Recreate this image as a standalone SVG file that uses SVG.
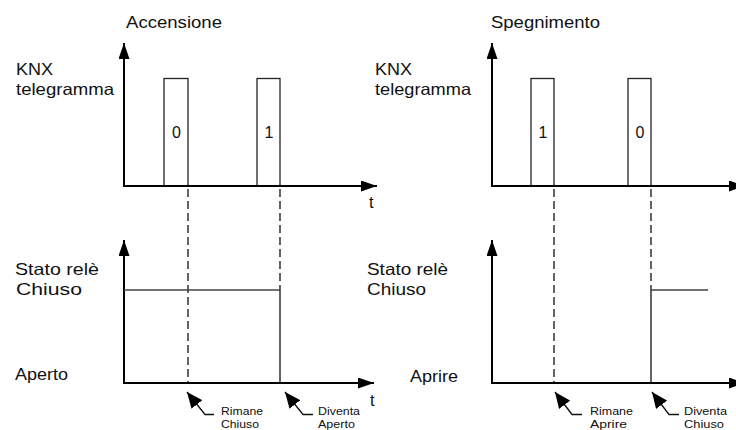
<svg xmlns="http://www.w3.org/2000/svg" width="736" height="430" viewBox="0 0 736 430">
<style>
text{font-family:"Liberation Sans",Arial,sans-serif;fill:#111}
.lbl{font-size:16.5px}
.num{font-size:16px;text-anchor:middle}
.sm{font-size:11.5px}
.axis{stroke:#000;stroke-width:2;fill:none}
.pulse{stroke:#222;stroke-width:1.3;fill:#fff}
.dash{stroke:#111;stroke-width:1.3;stroke-dasharray:8 4;fill:none}
.solid{stroke:#111;stroke-width:1.3;fill:none}
.state{stroke:#444;stroke-width:1.4;fill:none}
.ptr{stroke:#111;stroke-width:1.3;fill:none}
</style>
<defs>
<marker id="ah" markerUnits="userSpaceOnUse" markerWidth="17" markerHeight="11" refX="16" refY="5.5" orient="auto">
<path d="M0,0 L16,5.5 L0,11 z" fill="#000"/>
</marker>
<marker id="sah" markerUnits="userSpaceOnUse" markerWidth="17" markerHeight="14" refX="16" refY="7" orient="auto">
<path d="M0,0 L16,7 L0,14 z" fill="#000"/>
</marker>
</defs>

<g id="titles">
<text class="lbl" x="126" y="28" textLength="96" lengthAdjust="spacingAndGlyphs">Accensione</text>
<text class="lbl" x="491" y="28" textLength="109" lengthAdjust="spacingAndGlyphs">Spegnimento</text>
</g>

<g id="left-labels">
<text class="lbl" x="16" y="75" textLength="37" lengthAdjust="spacingAndGlyphs">KNX</text>
<text class="lbl" x="16" y="95" textLength="98" lengthAdjust="spacingAndGlyphs">telegramma</text>
<text class="lbl" x="15" y="275" textLength="84" lengthAdjust="spacingAndGlyphs">Stato relè</text>
<text class="lbl" x="16" y="295" textLength="66" lengthAdjust="spacingAndGlyphs">Chiuso</text>
<text class="lbl" x="15" y="380" textLength="53" lengthAdjust="spacingAndGlyphs">Aperto</text>
</g>

<g id="right-labels">
<text class="lbl" x="375" y="75" textLength="37" lengthAdjust="spacingAndGlyphs">KNX</text>
<text class="lbl" x="375" y="95" textLength="96" lengthAdjust="spacingAndGlyphs">telegramma</text>
<text class="lbl" x="367" y="275" textLength="81" lengthAdjust="spacingAndGlyphs">Stato relè</text>
<text class="lbl" x="367" y="295" textLength="59" lengthAdjust="spacingAndGlyphs">Chiuso</text>
<text class="lbl" x="410" y="382" textLength="48" lengthAdjust="spacingAndGlyphs">Aprire</text>
</g>

<g id="left-top-chart">
<rect class="pulse" x="164" y="78.5" width="24" height="107.5"/>
<rect class="pulse" x="257" y="78.5" width="23" height="107.5"/>
<text class="num" x="176.5" y="138">0</text>
<text class="num" x="269" y="138">1</text>
<text class="lbl" x="369" y="208">t</text>
</g>

<g id="right-top-chart">
<rect class="pulse" x="531" y="78.5" width="23" height="107.5"/>
<rect class="pulse" x="628" y="78.5" width="23" height="107.5"/>
<text class="num" x="543" y="138">1</text>
<text class="num" x="640" y="138">0</text>
</g>

<g id="left-bottom-chart">
<text class="lbl" x="370" y="406">t</text>
<text class="sm" x="221" y="415" textLength="42" lengthAdjust="spacingAndGlyphs">Rimane</text>
<text class="sm" x="221" y="427.5" textLength="38" lengthAdjust="spacingAndGlyphs">Chiuso</text>
<text class="sm" x="318" y="415" textLength="42" lengthAdjust="spacingAndGlyphs">Diventa</text>
<text class="sm" x="318" y="427.5" textLength="37" lengthAdjust="spacingAndGlyphs">Aperto</text>
</g>

<g id="right-bottom-chart">
<text class="sm" x="590" y="415" textLength="43" lengthAdjust="spacingAndGlyphs">Rimane</text>
<text class="sm" x="590" y="427.5" textLength="37" lengthAdjust="spacingAndGlyphs">Aprire</text>
<text class="sm" x="684" y="415" textLength="43" lengthAdjust="spacingAndGlyphs">Diventa</text>
<text class="sm" x="684" y="427.5" textLength="40" lengthAdjust="spacingAndGlyphs">Chiuso</text>
</g>

<g id="connectors">
<!-- axes -->
<path class="axis" d="M124,186 V43" marker-end="url(#ah)"/>
<path class="axis" d="M123,186 H377" marker-end="url(#ah)"/>
<path class="axis" d="M124,383 V240" marker-end="url(#ah)"/>
<path class="axis" d="M123,383 H374" marker-end="url(#ah)"/>
<path class="axis" d="M492,186 V43" marker-end="url(#ah)"/>
<path class="axis" d="M491,186 H745" marker-end="url(#ah)"/>
<path class="axis" d="M492,383 V240" marker-end="url(#ah)"/>
<path class="axis" d="M491,383 H745" marker-end="url(#ah)"/>
<!-- dashed projections -->
<path class="dash" d="M188,189 V382"/>
<path class="dash" d="M280,189 V290"/>
<path class="dash" d="M554,189 V382"/>
<path class="dash" d="M651,189 V290"/>
<!-- state -->
<path class="state" d="M124,290 H280"/>
<path class="solid" d="M280,290 V383"/>
<path class="state" d="M651,290 H708"/>
<path class="solid" d="M651,290 V383"/>
<!-- pointers -->
<path class="ptr" d="M214,414.5 H205 L187,392" marker-end="url(#sah)"/>
<path class="ptr" d="M313,414.5 H303 L285,392" marker-end="url(#sah)"/>
<path class="ptr" d="M582,414.5 H572 L555,392" marker-end="url(#sah)"/>
<path class="ptr" d="M679,414.5 H669 L652,392" marker-end="url(#sah)"/>
</g>
</svg>
